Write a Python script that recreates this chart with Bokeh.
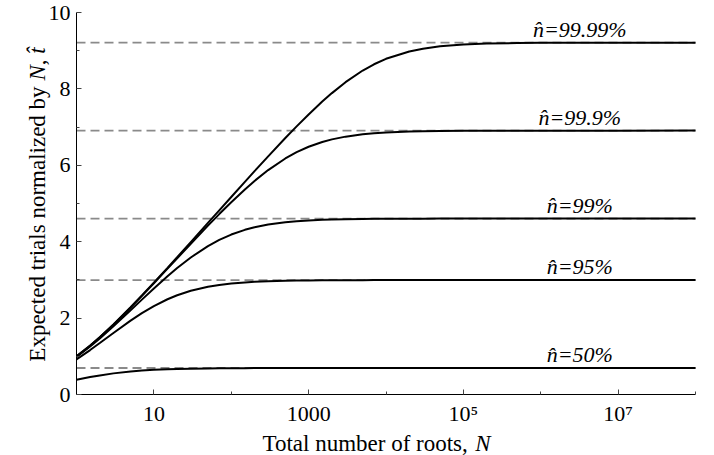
import math
from bokeh.plotting import figure
from bokeh.models import Label, FixedTicker, ColumnDataSource, Range1d
from bokeh.core.properties import value
from bokeh.embed import file_html
from bokeh.resources import INLINE

# ---- data ----
N = [1, 1.5, 2, 3, 5, 7, 10, 15, 20, 30, 50, 70, 100, 150, 200, 300, 500, 700,
     1000, 1500, 2000, 3000, 5000, 7000, 1e4, 2e4, 3e4, 5e4, 1e5, 2e5, 5e5,
     1e6, 1e7, 1e8]
t50 = [0.3863, 0.4557, 0.5000, 0.5530, 0.6030, 0.6268, 0.6456, 0.6609, 0.6688,
       0.6768, 0.6832, 0.6861, 0.6882, 0.6898, 0.6907, 0.6915, 0.6922, 0.6924,
       0.6927, 0.6928, 0.6929, 0.6930, 0.6930, 0.6931, 0.6931, 0.6931, 0.6931,
       0.6931, 0.6931, 0.6931, 0.6931, 0.6931, 0.6931, 0.6931]
t95 = [0.9206, 1.1634, 1.3465, 1.6105, 1.9336, 2.1296, 2.3153, 2.4935, 2.5977,
       2.7146, 2.8188, 2.8667, 2.9041, 2.9339, 2.9491, 2.9644, 2.9769, 2.9822,
       2.9863, 2.9894, 2.9910, 2.9926, 2.9938, 2.9944, 2.9948, 2.9953, 2.9954,
       2.9955, 2.9956, 2.9957, 2.9957, 2.9957, 2.9957, 2.9957]
t99 = [0.9837, 1.2560, 1.4676, 1.7850, 2.2040, 2.4833, 2.7755, 3.0954, 3.3096,
       3.5870, 3.8855, 4.0471, 4.1874, 4.3108, 4.3780, 4.4493, 4.5095, 4.5362,
       4.5565, 4.5725, 4.5806, 4.5888, 4.5953, 4.5981, 4.6002, 4.6027, 4.6035,
       4.6042, 4.6047, 4.6049, 4.6051, 4.6051, 4.6052, 4.6052]
t999 = [0.9984, 1.2779, 1.4967, 1.8284, 2.2751, 2.5814, 2.9126, 3.2938, 3.5653,
        3.9467, 4.4198, 4.7232, 5.0339, 5.3683, 5.5899, 5.8746, 6.1791, 6.3432,
        6.4855, 6.6104, 6.6784, 6.7504, 6.8112, 6.8381, 6.8586, 6.8830, 6.8912,
        6.8978, 6.9028, 6.9053, 6.9068, 6.9073, 6.9077, 6.9078]
t9999 = [0.9998, 1.2801, 1.4997, 1.8328, 2.2825, 2.5917, 2.9273, 3.3158, 3.5945,
         3.9901, 4.4910, 4.8214, 5.1711, 5.5668, 5.8456, 6.2344, 6.7135, 7.0194,
         7.3320, 7.6679, 7.8902, 8.1757, 8.4808, 8.6452, 8.7876, 8.9807, 9.0529,
         9.1137, 9.1612, 9.1856, 9.2004, 9.2054, 9.2098, 9.2103]
asymptotes = [0.6931, 2.9957, 4.6052, 6.9078, 9.2103]
curve_labels = ["n\u0302=50%", "n\u0302=95%", "n\u0302=99%", "n\u0302=99.9%", "n\u0302=99.99%"]
label_x = 3.2e6
x_major = [10, 1000, 100000, 10000000]
x_minor = [100, 10000, 1000000, 100000000]
x_tick_labels = ["10", "1000", "10\u2075", "10\u2077"]
y_major = [0, 2, 4, 6, 8, 10]
y_minor = [1, 3, 5, 7, 9]
x_lo, x_hi = 1, 1e8
y_lo, y_hi = 0, 10

# ---- layout: axes box at these canvas pixels ----
W, H = 714, 455
FL, FR, FT, FB = 76, 695, 12, 394
DEC = (FR - FL) / 8.0
UNIT = (FB - FT) / 10.0
FONT = "Liberation Serif"

def px_to_x(px):
    return 10 ** ((px - FL) / DEC)

def py_to_y(py):
    return (FB - py) / UNIT

# frame covers the whole canvas; axes sit at fixed data locations
p = figure(width=W, height=H, x_axis_type="log",
           x_range=Range1d(px_to_x(0), px_to_x(W)),
           y_range=Range1d(py_to_y(H), py_to_y(0)),
           output_backend="svg", toolbar_location=None,
           min_border_left=0, min_border_right=0, min_border_top=0,
           min_border_bottom=0)
p.outline_line_color = None
p.grid.visible = False
p.background_fill_color = "white"
p.border_fill_color = "white"

for ax in (p.xaxis[0], p.yaxis[0]):
    ax.axis_line_color = "black"
    ax.axis_line_width = 1
    ax.major_tick_in = 5
    ax.major_tick_out = 0
    ax.minor_tick_in = 3
    ax.minor_tick_out = 0
    ax.major_tick_line_color = "#444444"
    ax.minor_tick_line_color = "#444444"
    ax.major_label_text_font = FONT
    ax.major_label_text_font_size = "22px"
    ax.major_label_text_color = "black"
    ax.axis_label = None

p.xaxis[0].fixed_location = y_lo
p.xaxis[0].bounds = (x_lo, x_hi)
p.xaxis[0].ticker = FixedTicker(ticks=x_major, minor_ticks=x_minor)
p.xaxis[0].major_label_overrides = {v: s for v, s in zip(x_major, x_tick_labels)}
p.xaxis[0].major_label_standoff = 6
p.yaxis[0].fixed_location = x_lo
p.yaxis[0].bounds = (y_lo, y_hi)
p.yaxis[0].ticker = FixedTicker(ticks=y_major, minor_ticks=y_minor)
p.yaxis[0].major_label_standoff = 6

# dashed asymptotes
p.segment(x0=[x_lo] * len(asymptotes), x1=[x_hi] * len(asymptotes),
          y0=asymptotes, y1=asymptotes, line_color="#8a8a8a",
          line_width=1.8, line_dash="9 5")

# curves
for ys in (t50, t95, t99, t999, t9999):
    p.line(N, ys, line_color="black", line_width=2)

# curve labels (sitting just above their asymptote)
lift = 1.0 / UNIT
src = ColumnDataSource(dict(x=[label_x] * len(asymptotes),
                            y=[a + lift for a in asymptotes], text=curve_labels))
p.text(x="x", y="y", text="text", source=src, text_font=value(FONT),
       text_font_style="italic", text_font_size="22px", text_align="center",
       text_baseline="bottom", text_color="black")

# axis titles built from pieces (roman + italic)
FS = 23
xl_pieces = [("Total number of roots, ", "normal", 9.249), ("N", "italic", 0.667)]
total = sum(w for _, _, w in xl_pieces) * FS
start = 376 - total / 2
base_py = 443
acc = 0.0
for txt, st, w in xl_pieces:
    p.add_layout(Label(x=px_to_x(start + acc), y=py_to_y(base_py), text=txt,
                       text_font=FONT, text_font_style=st, text_font_size=f"{FS}px",
                       text_align="left", text_baseline="alphabetic", text_color="black"))
    acc += w * FS

yl_pieces = [("Expected trials normalized by ", "normal", 12.22), ("N", "italic", 0.667),
             (", ", "normal", 0.5), ("t\u0302", "italic", 0.278)]
total = sum(w for _, _, w in yl_pieces) * FS
start_py = 204 + total / 2
base_px = 37
acc = 0.0
for txt, st, w in yl_pieces:
    p.add_layout(Label(x=px_to_x(base_px), y=py_to_y(start_py - acc), text=txt,
                       angle=math.pi / 2, text_font=FONT, text_font_style=st,
                       text_font_size=f"{FS}px", text_align="left",
                       text_baseline="alphabetic", text_color="black"))
    acc += w * FS

open("out.html", "w").write(file_html(p, INLINE))
